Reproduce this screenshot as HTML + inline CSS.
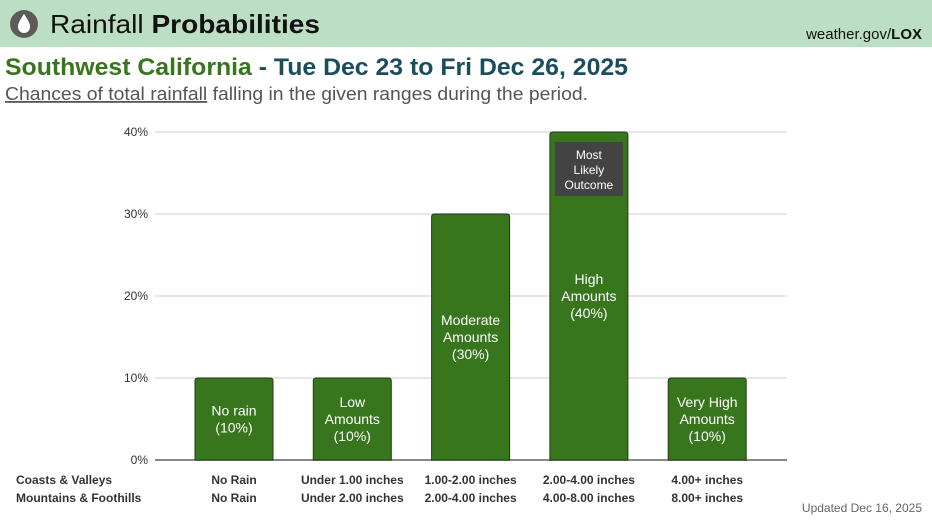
<!DOCTYPE html>
<html><head><meta charset="utf-8"><style>
body{margin:0;width:932px;height:524px;overflow:hidden;background:#fff;font-family:"Liberation Sans",sans-serif;position:relative}
.hdr{position:absolute;left:0;top:0;width:932px;height:47px;background:#bcdfc3}
</style></head><body>
<div class="hdr"></div>
<svg width="932" height="524" style="position:absolute;left:0;top:0">
  <g>
    <circle cx="24" cy="24" r="14" fill="#5e5a5a"/>
    <path d="M24 14 C20 20 18 23 18 27 A6 6 0 0 0 30 27 C30 23 28 20 24 14Z" fill="#fff"/>
  </g>
  <text x="50" y="33" font-size="26" fill="#111" textLength="270" lengthAdjust="spacingAndGlyphs">Rainfall <tspan font-weight="bold">Probabilities</tspan></text>
  <text x="922" y="39" font-size="15" text-anchor="end" fill="#111">weather.gov/<tspan font-weight="bold">LOX</tspan></text>
  <text x="5" y="75" font-size="24" font-weight="bold" fill="#38761d" textLength="623" lengthAdjust="spacingAndGlyphs">Southwest California <tspan fill="#1b4d5c">- Tue Dec 23 to Fri Dec 26, 2025</tspan></text>
  <text x="5" y="100" font-size="18" fill="#555" textLength="583" lengthAdjust="spacingAndGlyphs"><tspan text-decoration="underline">Chances of total rainfall</tspan> falling in the given ranges during the period.</text>
  <g id="plot"></g>
  <text x="922" y="512" font-size="12" text-anchor="end" fill="#666">Updated Dec 16, 2025</text>
</svg>
<script>
const categories=["No rain","Low Amounts","Moderate Amounts","High Amounts","Very High Amounts"];
const labelLines=[["No rain"],["Low","Amounts"],["Moderate","Amounts"],["High","Amounts"],["Very High","Amounts"]];
const values=[10,10,30,40,10];
const yTicks=[0,10,20,30,40];
const coasts=["No Rain","Under 1.00 inches","1.00-2.00 inches","2.00-4.00 inches","4.00+ inches"];
const mountains=["No Rain","Under 2.00 inches","2.00-4.00 inches","4.00-8.00 inches","8.00+ inches"];
const NS="http://www.w3.org/2000/svg";
const g=document.getElementById('plot');
const x0=155,x1=787,yB=460,yT=132,yMax=40;
const y=v=>yB-(v/yMax)*(yB-yT);
const step=118.3,first=234,bw=78;
const xc=i=>first+i*step;
function mk(t,a){const e=document.createElementNS(NS,t);for(const k in a)e.setAttribute(k,a[k]);g.appendChild(e);return e;}
yTicks.forEach(t=>{
  const l=mk('line',{x1:x0,x2:x1,y1:y(t),y2:y(t),stroke:t===0?'#888':'#ddd','stroke-width':t===0?2:1.5});
  
  
  const tx=mk('text',{x:148,y:y(t)+4,'font-size':12,'text-anchor':'end',fill:'#333'});
  tx.textContent=t+'%';
  
  
});
const maxV=Math.max(...values);
values.forEach((v,i)=>{
  const top=y(v),h=yB-top,cx=xc(i);
  const r=mk('path',{d:`M${cx-bw/2} ${yB} V${top+3} Q${cx-bw/2} ${top} ${cx-bw/2+3} ${top} H${cx+bw/2-3} Q${cx+bw/2} ${top} ${cx+bw/2} ${top+3} V${yB} Z`,fill:'#38761d',stroke:'#1f3d12','stroke-width':1});
  
  
  const lines=labelLines[i].concat(['('+v+'%)']);
  const lh=17,mid=top+h/2;
  lines.forEach((s,j)=>{
    const t=mk('text',{x:cx,y:mid+(j-(lines.length-1)/2)*lh+5,'font-size':14,'text-anchor':'middle',fill:'#fff'});
    t.textContent=s;
    
    
  });
  if(v===maxV){
    const b=mk('rect',{x:cx-34,y:top+10,width:68,height:54,fill:'#434343'});
    
    
    ['Most','Likely','Outcome'].forEach((s,j)=>{
      const t=mk('text',{x:cx,y:top+27+j*15,'font-size':12,'text-anchor':'middle',fill:'#fff'});
      t.textContent=s;
      
      
    });
  }
  const c=mk('text',{x:cx,y:484,'font-size':12,'font-weight':'bold','text-anchor':'middle',fill:'#333'});
  c.textContent=coasts[i];
  
  
  const m=mk('text',{x:cx,y:502,'font-size':12,'font-weight':'bold','text-anchor':'middle',fill:'#333'});
  m.textContent=mountains[i];
  
  
});
[['Coasts & Valleys',484],['Mountains & Foothills',502]].forEach(([s,yy])=>{
  const t=mk('text',{x:16,y:yy,'font-size':12,'font-weight':'bold',fill:'#333'});
  t.textContent=s;
  
  
});
</script>
</body></html>
